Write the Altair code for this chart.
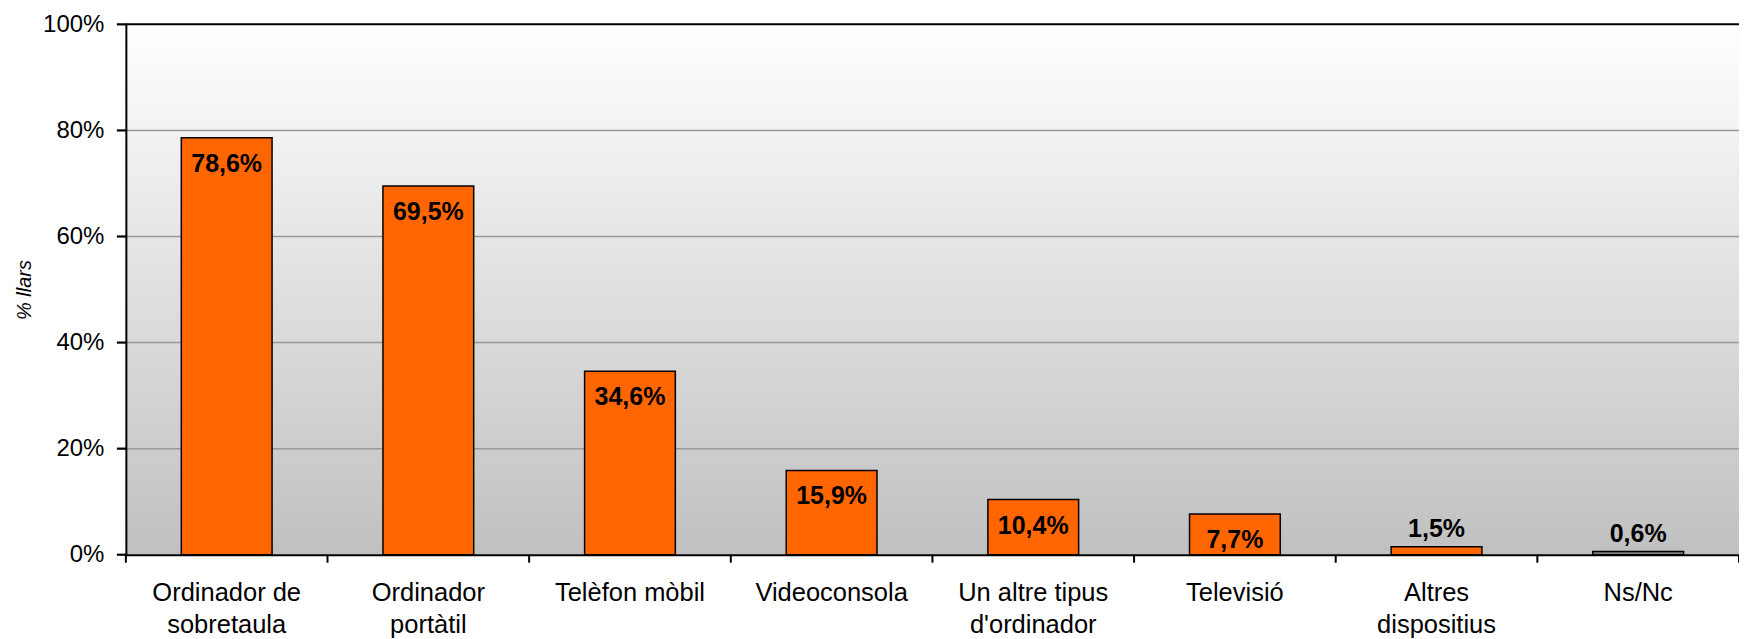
import altair as alt
import pandas as pd

# ---- data ----
categories = ["Ordinador de|sobretaula", "Ordinador|portàtil", "Telèfon mòbil", "Videoconsola",
              "Un altre tipus|d'ordinador", "Televisió", "Altres|dispositius", "Ns/Nc"]
values = [78.6, 69.5, 34.6, 15.9, 10.4, 7.7, 1.5, 0.6]
value_labels = ["78,6%", "69,5%", "34,6%", "15,9%", "10,4%", "7,7%", "1,5%", "0,6%"]
bar_colors = ["#FF6600", "#FF6600", "#FF6600", "#FF6600", "#FF6600", "#FF6600", "#FF6600", "#808080"]
y_ticks = [0, 20, 40, 60, 80, 100]
grid_values = [20, 40, 60, 80]
band_edges = list(range(len(categories) + 1))  # category boundaries 0..8

df = pd.DataFrame({"cat": categories, "val": values, "lab": value_labels, "col": bar_colors})
grid_df = pd.DataFrame({"g": grid_values})
ytick_df = pd.DataFrame({"g": y_ticks})
top_df = pd.DataFrame({"g": [100]})
edge_df = pd.DataFrame({"e": band_edges})
one = pd.DataFrame({"a": [0]})

W, H = 1615, 531
FONT = "Liberation Sans"

x_enc = alt.X("cat:N", sort=categories, title=None,
              scale=alt.Scale(paddingInner=0.55, paddingOuter=0.275),
              axis=alt.Axis(labelAngle=0,
                            labelExpr="isValid(datum.value) ? split(datum.value, '|') : ''",
                            labelFont=FONT, labelFontSize=25.5, labelColor="#000000",
                            labelLineHeight=32, labelPadding=26, ticks=False,
                            domainColor="#000000", domainWidth=2, grid=False, zindex=1))
y_scale = alt.Scale(domain=[0, 100], nice=False)

bg = alt.Chart(one).mark_rect(
    color=alt.LinearGradient(gradient="linear",
                             stops=[alt.GradientStop(color="#ffffff", offset=0),
                                    alt.GradientStop(color="#c0c0c0", offset=1)],
                             x1=0, x2=0, y1=0, y2=1)
).encode(x=alt.value(0), x2=alt.value(W), y=alt.value(0), y2=alt.value(H))

grid = alt.Chart(grid_df).mark_rule(color="#999999", strokeWidth=1.5).encode(
    y=alt.Y("g:Q", scale=y_scale), x=alt.value(0), x2=alt.value(W))

top = alt.Chart(top_df).mark_rule(color="#000000", strokeWidth=2).encode(
    y=alt.Y("g:Q", scale=y_scale), x=alt.value(0), x2=alt.value(W))

bars = alt.Chart(df).mark_bar(stroke="#000000", strokeWidth=1.5).encode(
    x=x_enc,
    y=alt.Y("val:Q", scale=y_scale, title="% llars",
            axis=alt.Axis(values=y_ticks, labelExpr="datum.value + '%'",
                          labelFont=FONT, labelFontSize=24, labelColor="#000000",
                          labelPadding=22, ticks=False,
                          domainColor="#000000", domainWidth=2, grid=False, zindex=1,
                          titleFont=FONT, titleFontSize=20, titleFontStyle="italic",
                          titleFontWeight="normal", titleColor="#000000",
                          titleX=-101, titleY=H / 2, titleAlign="center",
                          titleBaseline="middle", titleAngle=270)),
    color=alt.Color("col:N", scale=None),
)

text_in = alt.Chart(df).transform_filter("datum.val >= 5").mark_text(
    baseline="middle", dy=26, font=FONT, fontSize=25, fontWeight="bold", color="#000000"
).encode(x=alt.X("cat:N", sort=categories), y=alt.Y("val:Q", scale=y_scale), text="lab:N")

text_out = alt.Chart(df).transform_filter("datum.val < 5").mark_text(
    baseline="alphabetic", dy=-10, font=FONT, fontSize=25, fontWeight="bold", color="#000000"
).encode(x=alt.X("cat:N", sort=categories), y=alt.Y("val:Q", scale=y_scale), text="lab:N")

main = alt.layer(bg, grid, top, bars, text_in, text_out)

edge_scale = alt.Scale(domain=[0, len(categories)], nice=False, zero=False)

xticks = alt.Chart(edge_df).mark_rule(color="#000000", strokeWidth=2).encode(
    x=alt.X("e:Q", scale=edge_scale, axis=None),
    y=alt.value(H), y2=alt.value(H + 8))

yticks = alt.Chart(ytick_df).mark_rule(color="#000000", strokeWidth=2.2).encode(
    y=alt.Y("g:Q", scale=y_scale), x=alt.value(-9), x2=alt.value(1))

chart = alt.layer(main, xticks, yticks).resolve_scale(x="independent").properties(
    width=W, height=H,
    autosize=alt.AutoSizeParams(type="none"),
    padding={"left": 118, "top": 16, "right": 0, "bottom": 84},
).configure_view(stroke=None)

chart.save("out.html", embed_options={"renderer": "svg", "actions": False})
